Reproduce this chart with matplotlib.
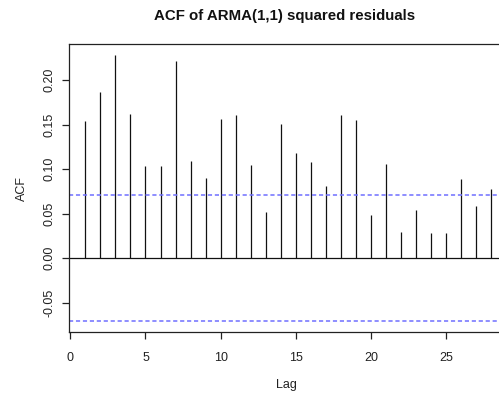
import matplotlib
matplotlib.use("Agg")
import matplotlib.pyplot as plt

lags = list(range(1, 29))
acf_values = [0.1544, 0.1862, 0.2280, 0.1622, 0.1032, 0.1032, 0.2209, 0.1091,
              0.0897, 0.1559, 0.1604, 0.1050, 0.0519, 0.1503, 0.1178, 0.1077,
              0.0815, 0.1604, 0.1548, 0.0486, 0.1058, 0.0295, 0.0538, 0.0280,
              0.0280, 0.0886, 0.0583, 0.0774]
conf_limit = 0.0705
x_ticks = [0, 5, 10, 15, 20, 25]
y_ticks = [-0.05, 0.00, 0.05, 0.10, 0.15, 0.20]
title = "ACF of ARMA(1,1) squared residuals"

plt.rcParams['font.family'] = ['Liberation Sans', 'DejaVu Sans']
plt.rcParams['lines.scale_dashes'] = False

fig = plt.figure(figsize=(4.99, 3.96), dpi=100)
W, H = 499, 396
left, right = 69.3, 504
top, bottom = 44.3, 332.3
ax = fig.add_axes([left / W, 1 - bottom / H, (right - left) / W, (bottom - top) / H])

ax.vlines(lags, 0, acf_values, colors='#111111', linewidth=0.9)
ax.axhline(0, color='#111111', linewidth=0.9)
for c in (conf_limit, -conf_limit):
    ax.axhline(c, color='#6f6fff', linewidth=1.1, dashes=(3.0, 2.0))

px_per_lag = 15.04
x0_px = 70.3
ax.set_xlim((left - x0_px) / px_per_lag, (right - x0_px) / px_per_lag)
zero_px = 258.3
px_per_unit = 891.5
ax.set_ylim(-(bottom - zero_px) / px_per_unit, (zero_px - top) / px_per_unit)

ax.set_xticks(x_ticks)
ax.set_xticklabels([str(t) for t in x_ticks])
ax.set_yticks(y_ticks)
ax.set_yticklabels([f"{t:.2f}" for t in y_ticks], rotation=90, va='center')

for s in ax.spines.values():
    s.set_linewidth(0.9)
    s.set_color('#222222')

ax.tick_params(axis='both', length=5, width=0.9, labelsize=9, color='#222222',
               labelcolor='#222222')
ax.tick_params(axis='x', pad=9)
ax.tick_params(axis='y', pad=5)

ax.set_xlabel("Lag", fontsize=9, labelpad=11, color='#222222')
ax.set_ylabel("ACF", fontsize=9, labelpad=11, color='#222222')
fig.text((69.3 + 499) / 2 / W, 1 - 16 / H, title, ha='center', va='center',
         fontsize=10.8, fontweight='bold', color='#111111')

fig.savefig("out.png", dpi=100)
